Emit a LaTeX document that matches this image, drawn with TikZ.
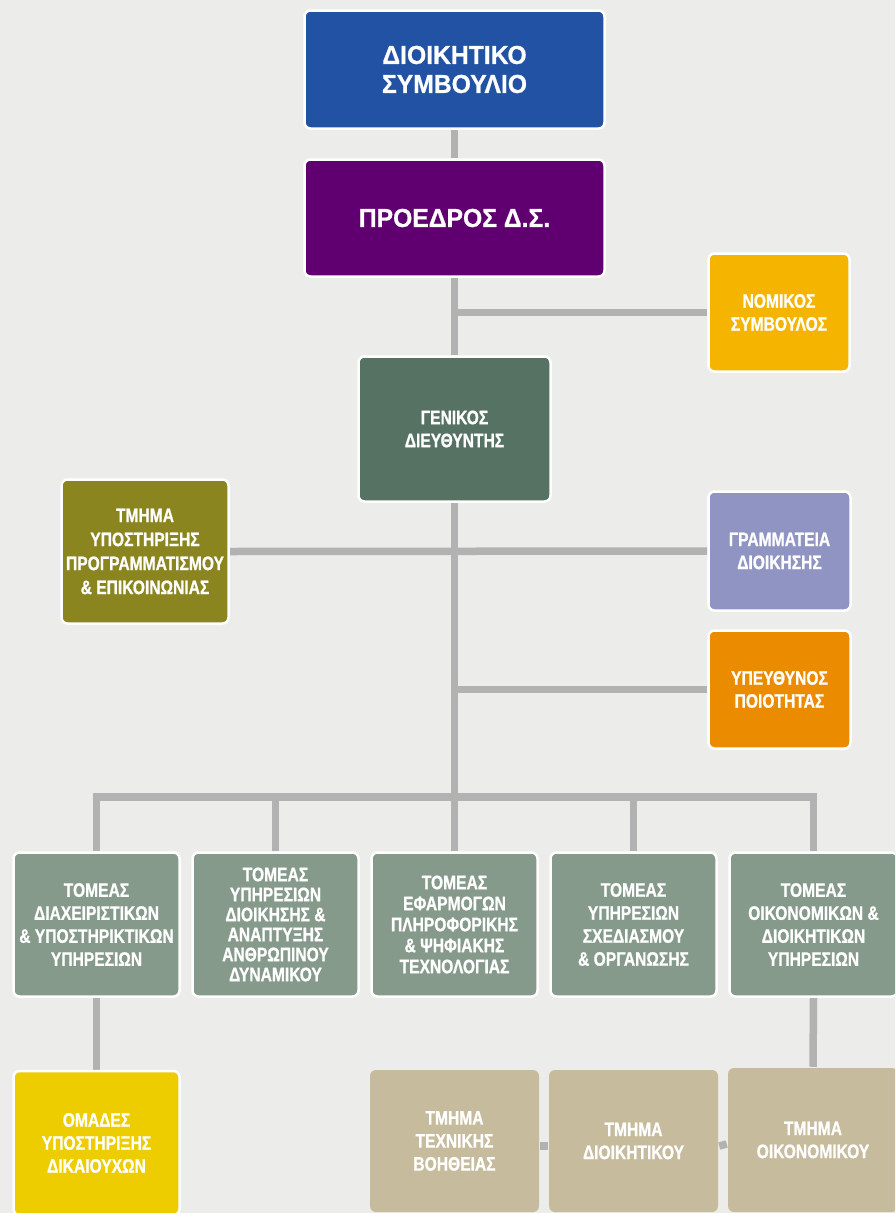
\documentclass[tikz,border=0pt]{standalone}
\usepackage{fontspec}
\setmainfont{Liberation Sans}
\newfontfamily\narrowf{Liberation Sans Bold}[FakeStretch=0.8, FakeBold=0.9]
\newfontfamily\bigf{Liberation Sans Bold}[FakeStretch=0.95, FakeBold=0.7]
\usetikzlibrary{backgrounds}
\definecolor{bg}{HTML}{ECEDEA}
\definecolor{cboard}{HTML}{2152A3}
\definecolor{cpres}{HTML}{600070}
\definecolor{clegal}{HTML}{F4B400}
\definecolor{cgd}{HTML}{557262}
\definecolor{cprog}{HTML}{8A851E}
\definecolor{csecr}{HTML}{9094C3}
\definecolor{cqual}{HTML}{EB8C00}
\definecolor{csector}{HTML}{869A8C}
\definecolor{cteams}{HTML}{EDCD00}
\definecolor{ctan}{HTML}{C6BB9C}
\definecolor{cconn}{HTML}{B2B2B2}
\tikzset{
  box/.style={rectangle, rounded corners=6pt, draw=white, line width=2.5pt,
    text=white, align=center, inner sep=0pt,
    font=\narrowf\fontsize{19.5}{23}\selectfont},
  bigbox/.style={box, font=\bigf\fontsize{26}{29}\selectfont},
  sectorbox/.style={box, fill=csector, minimum width=166pt, minimum height=144pt},
  tanbox/.style={box, draw=none, fill=ctan, minimum width=169pt, minimum height=142pt},
  conn/.style={draw=cconn, line width=7.5pt},
}
\begin{document}
\begin{tikzpicture}[x=1pt,y=-1pt]
\useasboundingbox (0,0) rectangle (895,1213);
\clip (0,0) rectangle (895,1213);

\node[bigbox, fill=cboard, minimum width=300pt, minimum height=118pt] (board) at (454.5,69.5) {ΔΙΟΙΚΗΤΙΚΟ\\ΣΥΜΒΟΥΛΙΟ};
\node[bigbox, fill=cpres, minimum width=300pt, minimum height=117pt] (pres) at (454.5,218) {ΠΡΟΕΔΡΟΣ Δ.Σ.};
\node[box, fill=clegal, minimum width=141pt, minimum height=118pt] (legal) at (779,312.5) {ΝΟΜΙΚΟΣ\\ΣΥΜΒΟΥΛΟΣ};
\node[box, fill=cgd, minimum width=192pt, minimum height=145pt] (gd) at (454.5,429) {ΓΕΝΙΚΟΣ\\ΔΙΕΥΘΥΝΤΗΣ};
\node[box, fill=cprog, minimum width=167pt, minimum height=144pt, font=\narrowf\fontsize{19.5}{24}\selectfont] (prog) at (145,551.5) {ΤΜΗΜΑ\\ΥΠΟΣΤΗΡΙΞΗΣ\\ΠΡΟΓΡΑΜΜΑΤΙΣΜΟΥ\\\& ΕΠΙΚΟΙΝΩΝΙΑΣ};
\node[box, fill=csecr, minimum width=142pt, minimum height=119pt] (secr) at (779.5,551) {ΓΡΑΜΜΑΤΕΙΑ\\ΔΙΟΙΚΗΣΗΣ};
\node[box, fill=cqual, minimum width=142pt, minimum height=118pt] (qual) at (779.5,689.5) {ΥΠΕΥΘΥΝΟΣ\\ΠΟΙΟΤΗΤΑΣ};

\node[sectorbox] (s1) at (96.5,924.5) {ΤΟΜΕΑΣ\\ΔΙΑΧΕΙΡΙΣΤΙΚΩΝ\\\& ΥΠΟΣΤΗΡΙΚΤΙΚΩΝ\\ΥΠΗΡΕΣΙΩΝ};
\node[sectorbox, font=\narrowf\fontsize{19.5}{20}\selectfont] (s2) at (275.5,924.5) {ΤΟΜΕΑΣ\\ΥΠΗΡΕΣΙΩΝ\\ΔΙΟΙΚΗΣΗΣ \&\\ΑΝΑΠΤΥΞΗΣ\\ΑΝΘΡΩΠΙΝΟΥ\\ΔΥΝΑΜΙΚΟΥ};
\node[sectorbox, font=\narrowf\fontsize{19.5}{21}\selectfont] (s3) at (454.5,924.5) {ΤΟΜΕΑΣ\\ΕΦΑΡΜΟΓΩΝ\\ΠΛΗΡΟΦΟΡΙΚΗΣ\\\& ΨΗΦΙΑΚΗΣ\\ΤΕΧΝΟΛΟΓΙΑΣ};
\node[sectorbox] (s4) at (633.5,924.5) {ΤΟΜΕΑΣ\\ΥΠΗΡΕΣΙΩΝ\\ΣΧΕΔΙΑΣΜΟΥ\\\& ΟΡΓΑΝΩΣΗΣ};
\node[sectorbox, minimum width=168pt] (s5) at (813.5,924.5) {ΤΟΜΕΑΣ\\ΟΙΚΟΝΟΜΙΚΩΝ \&\\ΔΙΟΙΚΗΤΙΚΩΝ\\ΥΠΗΡΕΣΙΩΝ};

\node[box, fill=cteams, minimum width=166pt, minimum height=144pt] (teams) at (96.5,1143) {ΟΜΑΔΕΣ\\ΥΠΟΣΤΗΡΙΞΗΣ\\ΔΙΚΑΙΟΥΧΩΝ};
\node[tanbox] (t1) at (454.5,1141) {ΤΜΗΜΑ\\ΤΕΧΝΙΚΗΣ\\ΒΟΗΘΕΙΑΣ};
\node[tanbox] (t2) at (633.5,1141) {ΤΜΗΜΑ\\ΔΙΟΙΚΗΤΙΚΟΥ};
\node[tanbox, minimum width=170pt, minimum height=144pt] (t3) at (813,1140) {ΤΜΗΜΑ\\ΟΙΚΟΝΟΜΙΚΟΥ};

\coordinate (bus) at (454.5,797);
\begin{pgfonlayer}{background}
  \fill[bg] (0,0) rectangle (895,1213);
  \draw[conn] (board.south) -- (pres.north);
  \draw[conn] (pres.south) -- (gd.north);
  \draw[conn] (legal.west) -- (legal.west -| gd.north);
  \draw[conn] (prog.east) -- (secr.west);
  \draw[conn] (qual.west) -- (qual.west -| gd.south);
  \draw[conn] (gd.south) -- (bus);
  \draw[conn] (s1.north) -- (s1.north |- bus) -- (s5.north |- bus) -- (s5.north);
  \draw[conn] (s2.north) -- (s2.north |- bus);
  \draw[conn] (s3.north) -- (bus);
  \draw[conn] (s4.north) -- (s4.north |- bus);
  \draw[conn] (s1.south) -- (teams.north);
  \draw[conn] (s5.south) -- (t3.north);
  \draw[conn] ([yshift=-5pt]t1.east) -- ([yshift=-5pt]t2.west);
  \draw[conn] ([yshift=-5pt]t2.east) -- ([yshift=-4pt]t3.west);
\end{pgfonlayer}
\end{tikzpicture}
\end{document}
